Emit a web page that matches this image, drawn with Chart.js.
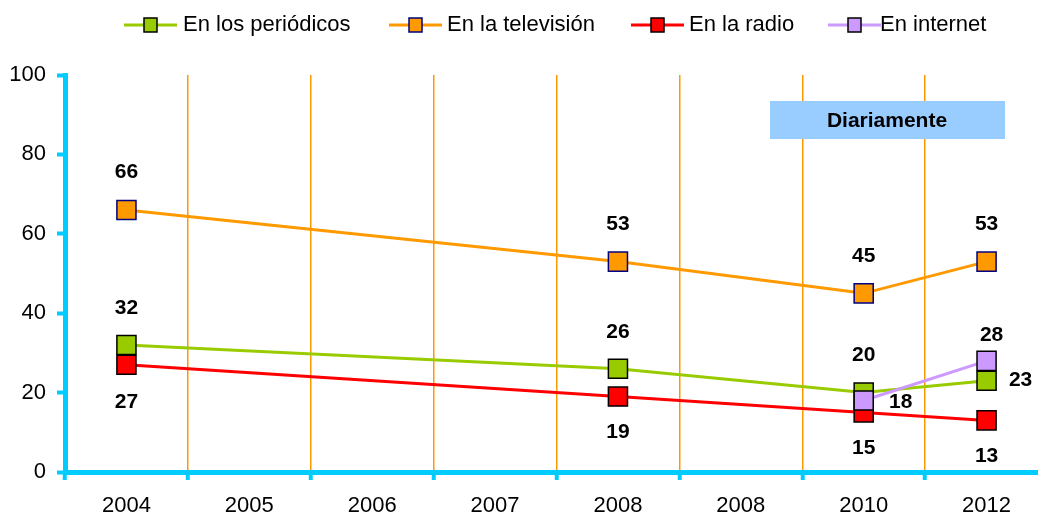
<!DOCTYPE html>
<html>
<head>
<meta charset="utf-8">
<script src="https://cdn.jsdelivr.net/npm/chart.js@4/dist/chart.umd.min.js"></script>
<style>
  html, body { margin: 0; padding: 0; background: #fff; overflow: hidden; }
</style>
</head>
<body>
<canvas id="chart" width="1038" height="516"></canvas>
<script>
// categories on the x axis (the 2008 label appears twice on purpose)
const years = ["2004", "2005", "2006", "2007", "2008", "2008", "2010", "2012"];

// percentages per medium, gaps where there was no survey
const periodicos = [32, null, null, null, 26, null, 20, 23];
const television = [66, null, null, null, 53, null, 45, 53];
const radio = [27, null, null, null, 19, null, 15, 13];
const internet = [null, null, null, null, null, null, 18, 28];

const yTicks = [0, 20, 40, 60, 80, 100];
const boxText = "Diariamente";

const FONT = "'Liberation Sans', Arial, sans-serif";
const AXIS = "#00ccff";
const PLOT_RIGHT = 1048; // plot area runs slightly past the canvas edge

// where each value label sits relative to its marker [dx, dy]
const labelOffsets = [
  { 0: [0, -37], 4: [0, -37], 6: [0, -37], 7: [34, 0] },
  { 0: [0, -38], 4: [0, -37], 6: [0, -37], 7: [0, -37] },
  { 0: [0, 37], 4: [0, 36], 6: [0, 36], 7: [0, 36] },
  { 6: [37, 2], 7: [5, -26] },
];

// legend entry start positions (line start, text start)
const legendX = [[124, 183], [389, 447], [631, 689], [828, 880]];

function series(label, data, color, border, order) {
  return {
    label,
    data,
    borderColor: color,
    backgroundColor: color,
    pointBackgroundColor: color,
    pointBorderColor: border,
    pointBorderWidth: 1.5,
    pointStyle: "rect",
    pointRadius: 13.5,
    pointHoverRadius: 13.5,
    borderWidth: 3,
    spanGaps: true,
    tension: 0,
    order,
  };
}

const stretchPlot = {
  id: "stretchPlot",
  afterLayout(chart) {
    const x = chart.scales.x;
    chart.chartArea.right = PLOT_RIGHT;
    chart.chartArea.width = PLOT_RIGHT - chart.chartArea.left;
    x.right = PLOT_RIGHT;
    x.width = PLOT_RIGHT - x.left;
    x.configure();
  },
};

const valueLabels = {
  id: "valueLabels",
  afterDatasetsDraw(chart) {
    const ctx = chart.ctx;
    ctx.save();
    ctx.font = "bold 21px " + FONT;
    ctx.fillStyle = "#000";
    ctx.textAlign = "center";
    ctx.textBaseline = "middle";
    chart.data.datasets.forEach((ds, i) => {
      const meta = chart.getDatasetMeta(i);
      ds.data.forEach((v, j) => {
        if (v == null) return;
        const off = labelOffsets[i][j] || [0, -37];
        const pt = meta.data[j];
        ctx.fillText(String(v), pt.x + off[0], pt.y + off[1]);
      });
    });
    ctx.restore();
  },
};

const infoBox = {
  id: "infoBox",
  beforeDatasetsDraw(chart) {
    const ctx = chart.ctx;
    ctx.save();
    ctx.fillStyle = "#99ccff";
    ctx.fillRect(770, 101, 235, 38);
    ctx.fillStyle = "#000";
    ctx.font = "bold 21px " + FONT;
    ctx.textAlign = "center";
    ctx.textBaseline = "middle";
    ctx.fillText(boxText, 887, 121);
    ctx.restore();
  },
};

const legendLine = {
  id: "legendLine",
  afterDraw(chart) {
    const ctx = chart.ctx;
    const y = 25;
    ctx.save();
    chart.data.datasets.forEach((ds, i) => {
      const [lx, tx] = legendX[i];
      ctx.strokeStyle = ds.borderColor;
      ctx.lineWidth = 3;
      ctx.beginPath();
      ctx.moveTo(lx, y);
      ctx.lineTo(lx + 53, y);
      ctx.stroke();
      ctx.fillStyle = ds.pointBackgroundColor;
      ctx.fillRect(lx + 20, y - 7, 13, 14);
      ctx.strokeStyle = ds.pointBorderColor;
      ctx.lineWidth = 1.5;
      ctx.strokeRect(lx + 20, y - 7, 13, 14);
      ctx.fillStyle = "#000";
      ctx.font = "22px " + FONT;
      ctx.textAlign = "left";
      ctx.textBaseline = "middle";
      ctx.fillText(ds.label, tx, y);
    });
    ctx.restore();
  },
};

new Chart(document.getElementById("chart"), {
  type: "line",
  data: {
    labels: years,
    datasets: [
      series("En los periódicos", periodicos, "#99cc00", "#000", 4),
      series("En la televisión", television, "#ff9900", "#000080", 3),
      series("En la radio", radio, "#ff0000", "#000", 2),
      series("En internet", internet, "#cc99ff", "#000", 1),
    ],
  },
  options: {
    responsive: false,
    animation: false,
    devicePixelRatio: 1,
    layout: { padding: { top: 75, right: 0, left: 0, bottom: 0 } },
    plugins: { legend: { display: false }, tooltip: { enabled: false } },
    scales: {
      x: {
        offset: true,
        grid: {
          offset: true,
          color: "#ff9900",
          lineWidth: 1.5,
          tickLength: 8,
          tickColor: AXIS,
          tickWidth: 4,
        },
        border: { color: AXIS, width: 5 },
        ticks: { color: "#000", font: { family: FONT, size: 22 }, padding: 13, autoSkip: false, maxRotation: 0 },
        afterFit(s) { s.height = 44; },
      },
      y: {
        min: 0,
        max: 100,
        afterBuildTicks(s) { s.ticks = yTicks.map((v) => ({ value: v })); },
        grid: { drawOnChartArea: false, tickLength: 8, tickColor: AXIS, tickWidth: 4 },
        border: { color: AXIS, width: 5 },
        ticks: { color: "#000", font: { family: FONT, size: 22 }, padding: 11 },
        afterFit(s) { s.width = 65; },
      },
    },
  },
  plugins: [stretchPlot, infoBox, valueLabels, legendLine],
});
</script>
</body>
</html>
